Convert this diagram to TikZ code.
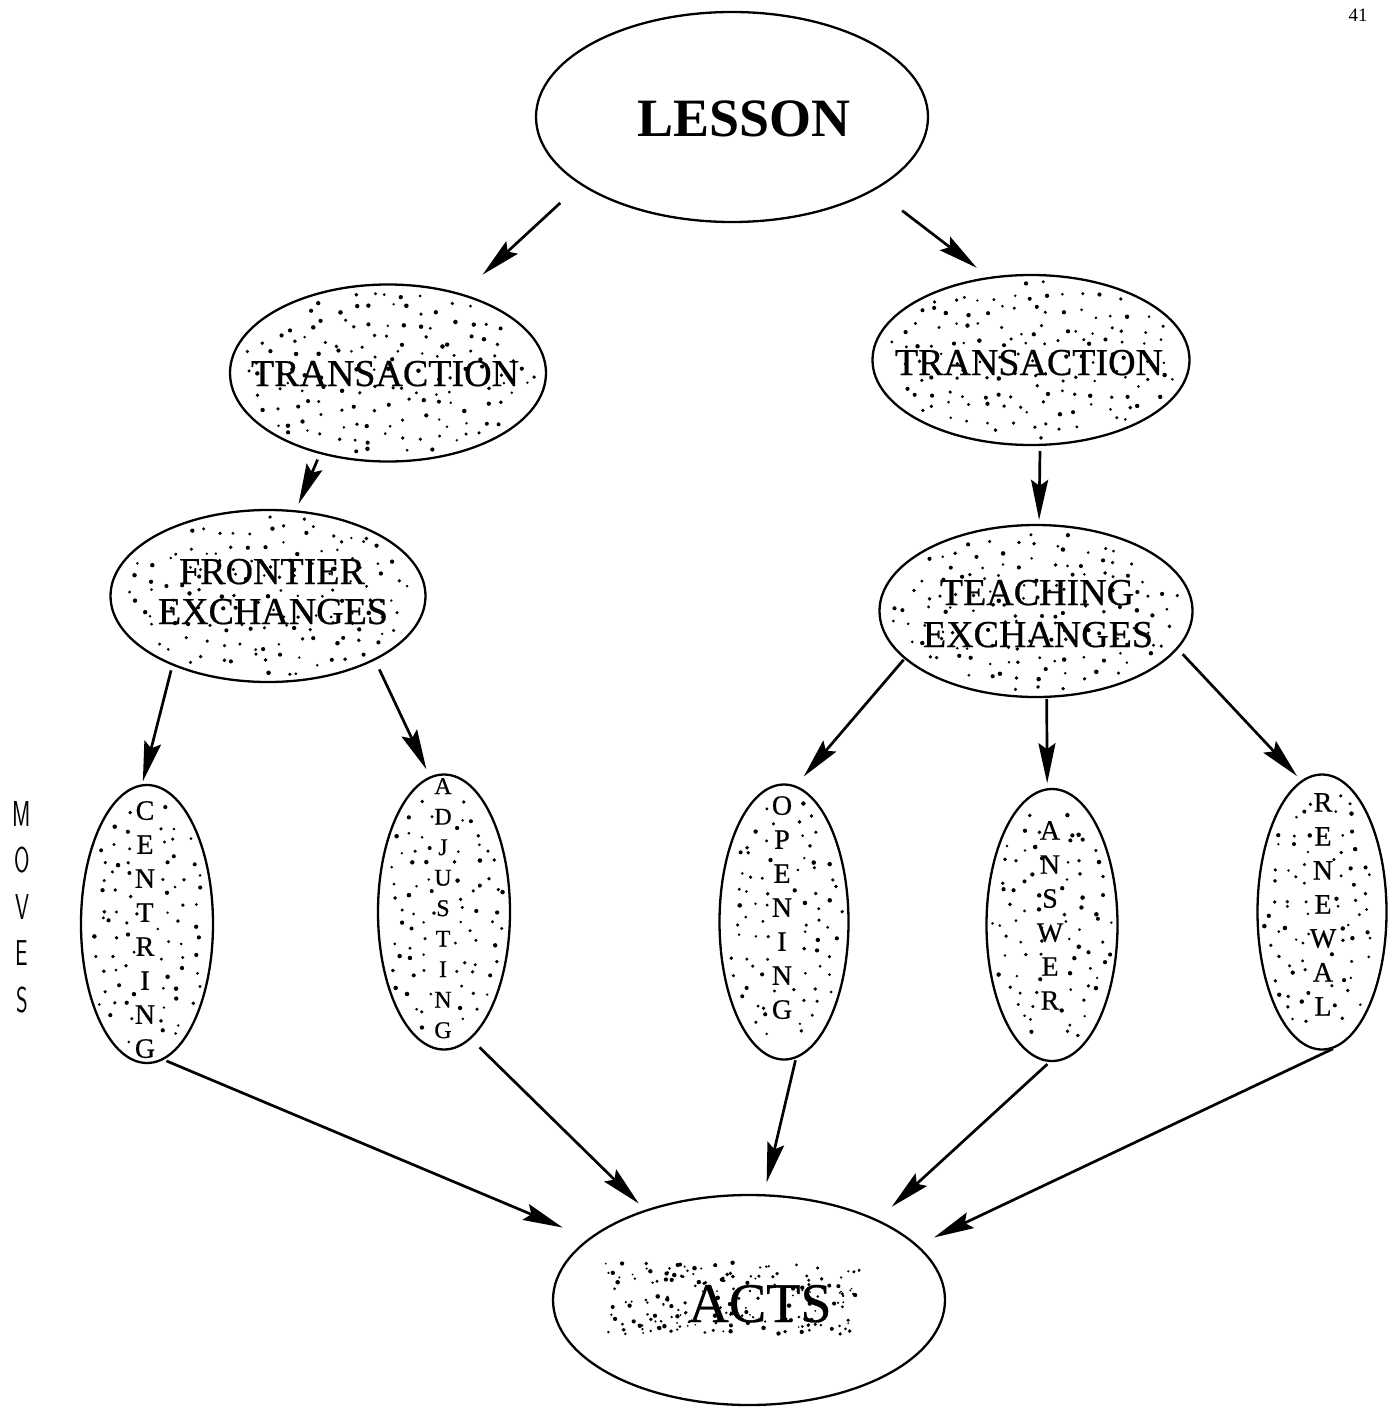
\documentclass[tikz,border=0pt]{standalone}
\usepackage{fontspec}
\setmainfont{Liberation Serif}
\newfontfamily\labfont{Liberation Serif}[FakeBold=0.6]
\usetikzlibrary{shapes.geometric,arrows.meta}
% #1 cx, #2 cy, #3 rx, #4 ry, #5 half-width of a dot-free central column
\newcommand\stip[5]{%
  \pgfmathtruncatemacro\nx{#3/16}%
  \pgfmathtruncatemacro\ny{#4/16}%
  \foreach \i in {-\nx,...,\nx}{%
    \foreach \j in {-\ny,...,\ny}{%
      \pgfmathsetmacro\px{\i*16+13*(rnd-0.5)}%
      \pgfmathsetmacro\py{\j*16+13*(rnd-0.5)}%
      \pgfmathtruncatemacro\inside{(((\px/#3)^2+(\py/#4)^2<0.86) && (abs(\px)>#5)) ? 1 : 0}%
      \pgfmathsetmacro\sd{1.3+1.0*rnd}%
      \ifnum\inside=1 \fill ({#1+\px},{#2+\py}) circle[radius=\sd pt];\fi
    }}}
\begin{document}
\begin{tikzpicture}[x=1pt,y=-1pt,
  bub/.style={ellipse,draw,line width=2.3pt,inner sep=0pt},
  arr/.style={line width=2.7pt,-{Stealth[length=40pt,width=17pt,inset=6pt]}},
  lbl/.style={inner sep=0pt,font=\labfont\fontsize{38}{40}\selectfont,anchor=base},
  vstack/.style={inner sep=0pt,align=center,anchor=north,font=\labfont\fontsize{28}{34}\selectfont}]
\useasboundingbox[fill=white] (0,0) rectangle (1387,1407);
\pgfmathsetseed{4711}
% stippling
\stip{388}{373}{158}{88}{-1}
\stip{1031}{360}{158}{85}{-1}
\stip{268}{596}{157}{86}{-1}
\stip{1036}{611}{156}{86}{-1}
\stip{147}{924}{66}{139}{9}
\stip{444}{912}{66}{137}{9}
\stip{784}{922}{64}{137}{9}
\stip{1052}{925}{65}{136}{9}
\stip{1322}{912}{64}{137}{9}
% smudge behind ACTS
\foreach \k in {1,...,200}{%
  \pgfmathsetmacro\sx{605+255*rnd}%
  \pgfmathsetmacro\sy{1262+72*rnd}%
  \pgfmathsetmacro\sd{0.9+1.4*rnd}%
  \fill (\sx,\sy) circle[radius=\sd pt];
}
% ellipses
\node[bub,minimum width=392pt,minimum height=210pt] (lesson) at (732,117) {};
\node[bub,minimum width=316pt,minimum height=177pt] (lt) at (388,373) {};
\node[bub,minimum width=317pt,minimum height=170pt] (rt) at (1031,360) {};
\node[bub,minimum width=315pt,minimum height=172pt] (fr) at (268,596) {};
\node[bub,minimum width=313pt,minimum height=172pt] (te) at (1036,611) {};
\node[bub,minimum width=132pt,minimum height=278pt] (ce) at (147,924) {};
\node[bub,minimum width=132pt,minimum height=275pt] (ad) at (444,912) {};
\node[bub,minimum width=129pt,minimum height=275pt] (op) at (784,922) {};
\node[bub,minimum width=131pt,minimum height=272pt] (an) at (1052,925) {};
\node[bub,minimum width=129pt,minimum height=275pt] (re) at (1322,912) {};
\node[bub,minimum width=392pt,minimum height=210pt] (ac) at (749,1300) {};
% texts
\node[inner sep=0pt,anchor=base,font=\fontsize{54}{56}\selectfont\bfseries] (tlesson) at (744,137) {LESSON};
\node[lbl] (tlt) at (385,386) {TRANSACTION};
\node[lbl] (trt) at (1029,375) {TRANSACTION};
\node[lbl] (tfr1) at (272,584) {FRONTIER};
\node[lbl] (tfr2) at (273,624) {EXCHANGES};
\node[lbl] (tte1) at (1037,605) {TEACHING};
\node[lbl] (tte2) at (1038,647) {EXCHANGES};
\node[vstack] (tce) at (145,801) {C\\E\\N\\T\\R\\I\\N\\G};
\node[vstack,font=\labfont\fontsize{24}{30.5}\selectfont] (tad) at (443,778) {A\\D\\J\\U\\S\\T\\I\\N\\G};
\node[vstack] (top) at (782,796) {O\\P\\E\\N\\I\\N\\G};
\node[vstack] (tan) at (1050,821) {A\\N\\S\\W\\E\\R};
\node[vstack] (tre) at (1323,793) {R\\E\\N\\E\\W\\A\\L};
\node[inner sep=0pt,anchor=base,font=\labfont\fontsize{56}{58}\selectfont] (tac) at (760,1322) {ACTS};
\node[inner sep=0pt,align=center,anchor=north,font=\sffamily\fontsize{36}{46.5}\selectfont] (moves) at (22,801)
  {\scalebox{0.62}[1]{M}\\\scalebox{0.62}[1]{O}\\\scalebox{0.62}[1]{V}\\\scalebox{0.62}[1]{E}\\\scalebox{0.62}[1]{S}};
\node[inner sep=0pt,font=\fontsize{19}{20}\selectfont] (pg) at (1358,15) {41};
% arrows
\draw[arr,shorten <=27pt,shorten >=28pt] (lesson.204) -- (lt.47);
\draw[arr,shorten <=34pt,shorten >=15pt] (lesson.333) -- (rt.117);
\draw[arr,shorten <=6pt,shorten >=7pt] (lt.230) -- (fr.72);
\draw[arr,shorten <=5pt,shorten >=4pt] (rt.276) -- (te.88);
\draw[arr,shorten <=5pt,shorten >=3pt] (fr.216) -- (ce.92);
\draw[arr,shorten <=10pt,shorten >=8pt] (fr.329) -- (ad.96);
\draw[arr,shorten <=1pt,shorten >=12pt] (te.200) -- (op.85);
\draw[arr,shorten <=1pt,shorten >=5pt] (te.277) -- (an.92);
\draw[arr,shorten <=7pt,shorten >=6pt] (te.345) -- (re.99);
\draw[arr,shorten <=3pt,shorten >=28pt] (ce.277) -- (ac.159);
\draw[arr,shorten <=12pt,shorten >=9pt] (ad.282) -- (ac.139);
\draw[arr,shorten <=2pt,shorten >=12pt] (op.275) -- (ac.82);
\draw[arr,shorten <=3pt,shorten >=19pt] (an.269) -- (ac.32);
\draw[arr,shorten <=1pt,shorten >=18pt] (re.275) -- (ac.18);
\end{tikzpicture}
\end{document}
